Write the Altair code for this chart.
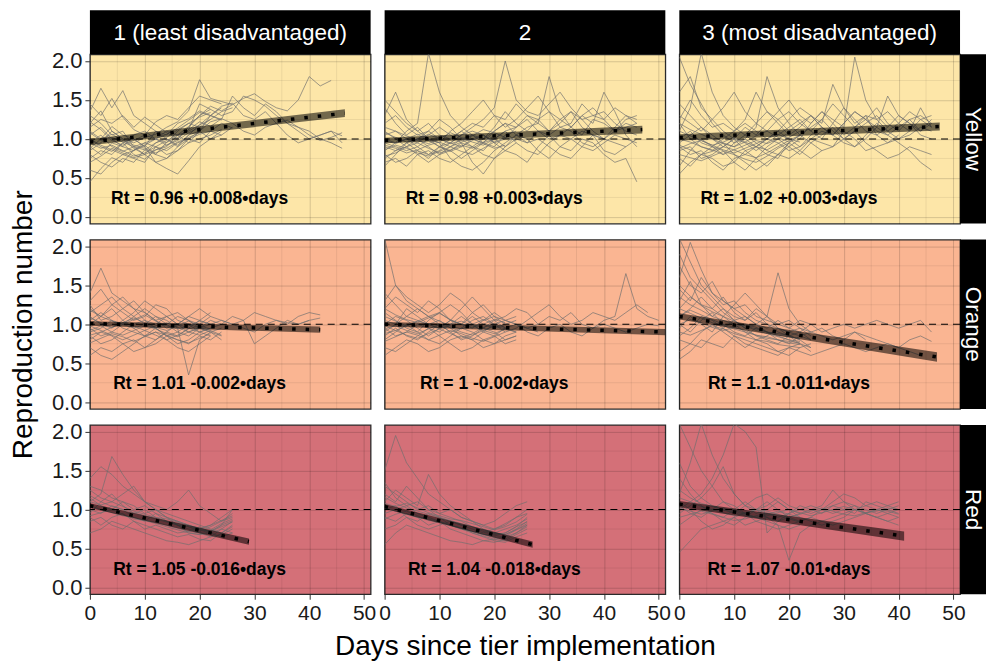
import altair as alt
import pandas as pd

FONT = "Liberation Sans"

tiers = ["Yellow", "Orange", "Red"]
groups = ["1 (least disadvantaged)", "2", "3 (most disadvantaged)"]
tier_fill = ["#FDE6A8", "#FAB592", "#D47078"]
step_days = 2  # readings every 2 days since tier start

# ---- individual county Rt trajectories (every 2 days) ----
yellow_1 = [
    [1.45, 1.30, 1.52, 1.28, 1.12, 1.05, 1.22, 1.30, 1.25, 1.40, 1.55, 1.50, 1.45],
    [0.45, 0.62, 0.76, 0.70, 0.86, 0.92, 0.80, 0.96, 1.02, 1.12, 1.22, 1.16, 1.26],
    [1.00, 0.90, 0.84, 0.95, 0.80, 0.74, 0.86, 0.90, 1.05, 1.16, 1.30, 1.42, 1.36, 1.44],
    [1.20, 1.36, 1.10, 1.00, 0.95, 1.02, 1.06, 1.15, 1.22, 1.36, 1.76, 1.52, 1.48, 1.44, 1.52, 1.58, 1.48, 1.40, 1.36, 1.50, 1.80, 1.68, 1.75],
    [0.80, 0.70, 0.64, 0.75, 0.70, 0.86, 0.80, 0.75, 0.90, 1.00, 1.06, 1.10, 1.20, 1.14],
    [0.95, 1.05, 0.90, 0.84, 0.90, 0.80, 0.95, 1.00, 0.90, 1.05, 1.10, 1.22, 1.26, 1.20, 1.10, 1.05, 1.15, 1.20, 1.24, 1.15, 1.10, 1.00, 0.95, 0.88],
    [1.10, 1.00, 1.16, 1.05, 1.00, 0.90, 1.10, 1.05, 1.20, 1.26, 1.36, 1.30, 1.42, 1.46, 1.30, 1.25, 1.35, 1.20, 1.05, 0.95, 1.00, 1.05, 1.10, 1.04],
    [0.60, 0.55, 0.70, 0.80, 0.75, 0.70, 0.90, 0.85, 0.95, 1.00, 0.95, 1.10, 1.05],
    [1.30, 1.20, 1.05, 1.10, 0.90, 0.95, 1.00, 1.10, 1.05, 0.95, 1.10, 1.30, 1.25, 1.55, 1.40, 1.30, 1.45, 1.35, 1.20, 1.10, 1.00, 1.05, 1.10, 0.95],
    [0.90, 0.80, 0.95, 0.90, 0.85, 0.95, 0.90, 0.80, 0.85, 0.95, 1.00, 1.05, 1.12],
    [1.05, 1.15, 1.00, 0.90, 1.05, 1.10, 1.00, 0.95, 1.10, 1.20, 1.15, 1.25, 1.35, 1.40],
    [0.75, 0.85, 0.80, 0.95, 1.00, 0.90, 0.70, 0.75, 0.85, 1.00, 1.10, 1.00, 1.05, 1.15],
    [1.35, 1.65, 1.40, 1.62, 1.30, 1.20, 1.10, 1.00, 0.92, 1.05, 1.18, 1.30, 1.24],
    [0.85, 0.95, 1.10, 1.00, 0.88, 0.80, 0.70, 0.62, 0.55, 0.72, 0.90, 1.00, 1.10],
    [1.15, 1.25, 1.20, 1.30, 1.15, 1.28, 1.18, 1.08, 1.00, 1.12, 1.45, 1.38, 1.30, 1.35, 1.55, 1.50, 1.42, 1.30, 1.20, 1.15, 1.05, 0.98, 1.02, 1.08],
    [0.95, 0.88, 0.92, 0.85, 0.78, 0.82, 0.90, 0.98, 1.05, 1.10, 1.18, 1.25],
    [1.08, 0.98, 1.02, 0.96, 0.90, 0.86, 0.95, 1.02, 1.12, 1.20, 1.28, 1.34],
    [0.70, 0.78, 0.88, 0.82, 0.76, 0.80, 0.86, 0.92, 0.98, 1.08, 1.15],
    [1.22, 1.12, 0.98, 0.92, 0.98, 1.05, 1.00, 0.92, 1.00, 1.15, 1.30, 1.38],
    [0.88, 1.00, 1.06, 0.98, 0.92, 0.88, 0.82, 0.88, 0.96, 1.02, 1.08],
    [1.00, 0.92, 0.86, 0.80, 0.85, 0.92, 1.00, 1.06, 1.14, 1.24, 1.34, 1.30, 1.40],
]
yellow_2 = [
    [1.00, 0.95, 1.10, 1.20, 2.10, 1.60, 1.30, 1.15, 1.05, 1.00, 1.10, 1.20, 1.15, 1.30, 1.25, 1.10, 1.20, 1.35, 1.15, 1.05, 1.00, 1.10, 1.25, 1.30],
    [0.80, 0.70, 0.75, 0.85, 0.80, 0.90, 0.85, 0.95, 0.70, 0.55, 0.75, 0.90, 1.00, 0.95, 1.10, 1.05, 0.90, 0.85, 1.00, 0.95, 0.80, 0.70, 0.75, 0.45],
    [1.20, 1.30, 1.15, 1.05, 1.10, 1.00, 0.95, 1.05, 1.15, 1.25, 1.40, 2.00, 1.50, 1.35, 1.30, 1.45, 1.60, 1.40, 1.25, 1.30, 1.35, 1.20, 1.10, 1.05],
    [0.90, 0.85, 0.95, 1.00, 0.90, 0.80, 0.85, 0.75, 0.85, 0.95, 1.00, 0.90, 1.05, 1.15, 1.20, 1.80, 1.35, 1.15, 1.05, 1.25, 1.20, 1.10, 1.15, 1.20],
    [1.50, 1.35, 1.20, 1.10, 1.00, 0.90, 0.95, 1.05, 1.10, 1.05, 0.95, 1.00, 1.15, 1.25, 1.10, 1.00, 1.05, 1.15, 1.30, 1.20, 1.60, 1.35, 1.05, 0.90],
    [0.70, 0.75, 0.65, 0.80, 0.85, 0.75, 0.70, 0.80, 0.90, 0.85, 1.00, 1.10, 0.95, 0.85, 0.80, 0.95, 1.05, 1.00, 0.90, 0.85, 0.95, 1.05, 1.00, 0.95],
    [1.05, 1.10, 1.00, 0.95, 1.05, 1.15, 1.05, 0.95, 0.90, 1.00, 1.15, 1.35, 1.20, 1.10, 1.25, 1.35, 1.15, 1.20, 1.45, 1.30, 1.25, 1.40, 1.30, 1.20],
    [0.95, 0.90, 0.85, 0.90, 1.00, 0.95, 0.75, 0.65, 0.60, 0.70, 0.85, 0.95, 1.05, 1.00, 0.85, 0.75, 0.90, 1.00, 1.10, 1.05, 0.85, 0.80, 0.90, 1.00],
    [1.30, 1.60, 1.25, 1.10, 1.20, 1.05, 1.00, 1.10, 1.20, 1.15, 1.30, 1.25, 1.45, 1.30, 1.20, 1.10, 1.25, 1.35, 1.25, 1.10, 1.00, 1.15, 1.30, 1.25],
    [0.85, 0.95, 1.00, 0.90, 0.80, 0.85, 0.95, 0.90, 1.00, 1.05, 0.95, 0.85, 0.80, 0.70, 0.90, 1.05, 1.15, 1.10, 0.95, 0.90, 1.00, 0.95, 0.90],
    [1.10, 1.00, 0.90, 1.00, 1.10, 1.25, 1.15, 1.00, 1.05, 0.95, 0.90, 1.05, 1.10],
    [0.75, 0.85, 0.90, 0.80, 0.70, 0.80, 0.90, 1.00, 0.90, 0.80, 0.75, 0.85, 0.95],
    [1.40, 1.20, 1.05, 1.15, 1.00, 0.95, 1.10, 1.20, 1.35, 1.50, 1.30, 1.15, 1.25, 1.40, 1.55, 1.35, 1.25, 1.15, 1.30, 1.40, 1.25, 1.10, 1.20, 1.15],
    [0.65, 0.80, 0.95, 0.85, 0.75, 0.90, 1.00, 1.10, 1.00, 0.95, 1.10, 1.20, 1.05, 0.95, 1.00, 0.90, 0.80, 0.75, 0.90, 1.05, 1.00],
    [0.92, 0.88, 0.82, 0.86, 0.92, 0.96, 0.90, 0.84, 0.80, 0.88, 0.96, 1.02, 0.98],
    [1.08, 1.02, 0.96, 1.00, 1.06, 1.00, 0.94, 0.98, 1.04, 1.12, 1.08, 1.02],
    [0.78, 0.82, 0.90, 0.95, 0.88, 0.82, 0.86, 0.92, 0.88, 0.96, 1.04],
    [1.15, 1.10, 1.04, 0.98, 0.94, 1.00, 1.08, 1.02, 0.96, 0.92, 1.00, 1.10, 1.15],
    [0.98, 0.94, 1.00, 1.06, 0.98, 0.90, 0.84, 0.90, 0.98, 1.05, 0.96],
    [0.86, 0.92, 0.88, 0.82, 0.78, 0.84, 0.90, 0.96, 1.00, 0.94, 0.88, 0.92],
]
yellow_3 = [
    [1.10, 1.40, 2.10, 1.60, 1.30, 1.15, 1.05, 1.20, 1.35, 1.25, 1.10, 1.20, 1.30, 1.15, 1.05, 1.20, 1.35, 1.25, 1.10, 1.05, 1.15, 1.25, 1.10, 1.20],
    [0.55, 0.70, 0.80, 0.75, 0.65, 0.70, 0.85, 0.90, 0.80, 0.75, 0.95, 1.05, 0.95, 0.85, 0.90, 1.00, 1.10, 0.95, 0.85, 0.75, 0.80, 0.90, 0.85, 0.80],
    [1.60, 1.80, 1.40, 1.25, 1.10, 1.00, 1.15, 1.05, 1.20, 1.35, 1.50, 1.30, 1.20, 1.35, 1.25, 1.15, 2.05, 1.50, 1.25, 1.35, 1.20, 1.10, 1.25, 1.30],
    [0.90, 0.80, 0.85, 0.70, 0.60, 0.75, 0.80, 0.90, 1.00, 0.95, 0.85, 0.90, 1.00, 1.10, 1.05, 0.95, 0.90, 1.00, 1.15, 1.05, 0.95, 0.85, 0.70, 0.60],
    [1.30, 1.20, 1.10, 1.25, 1.40, 1.60, 1.35, 1.20, 1.10, 1.25, 1.35, 1.20, 1.10, 1.25, 1.45, 1.30, 1.15, 1.25, 1.40, 1.20, 1.10, 1.25, 1.30, 1.20],
    [0.75, 0.65, 0.80, 0.90, 0.85, 0.70, 0.60, 0.75, 0.90, 1.00, 0.90, 0.80, 0.95, 1.05, 1.15, 1.00, 0.90, 1.05, 1.20, 1.10, 1.00, 1.05, 1.15, 1.10],
    [1.00, 1.10, 0.95, 0.90, 1.00, 1.10, 1.20, 1.10, 1.00, 1.10, 1.25, 1.40, 1.30, 1.15, 1.05, 1.20, 1.35, 1.25, 1.15, 1.55, 1.30, 1.20, 1.10, 1.25],
    [1.20, 1.00, 0.90, 0.85, 0.95, 0.80, 0.70, 0.60, 0.70, 0.80, 0.90, 1.00, 1.20, 1.35, 1.20, 1.05, 1.15, 1.30, 1.05, 0.95, 1.00, 1.10, 1.40, 1.15],
    [0.65, 0.85, 1.00, 0.90, 0.80, 0.95, 1.05, 0.95, 0.85, 0.80, 0.75, 0.85, 1.00, 0.95, 0.90, 1.10, 1.00, 0.85, 0.90, 0.95, 1.05],
    [1.45, 1.30, 1.15, 1.05, 0.95, 0.90, 1.00, 1.15, 1.80, 1.40, 1.20, 1.05, 1.15, 1.25, 1.10, 1.00, 1.10, 1.20, 1.30, 1.15],
    [0.85, 0.90, 0.75, 0.80, 0.90, 1.00, 0.85, 0.75, 0.65, 0.80, 0.95, 0.85, 0.75, 0.85],
    [2.05, 1.70, 1.45, 1.20, 1.05, 0.95, 1.00, 0.90, 1.00, 1.10, 1.00, 0.90, 1.05, 1.15],
    [0.95, 1.05, 1.15, 1.00, 0.90, 1.00, 0.95, 0.85, 0.95, 1.05, 1.15, 1.25, 1.10, 1.00, 1.20, 1.40, 1.25, 1.10, 1.05, 1.15, 1.30, 1.20, 1.05, 1.00],
    [1.25, 1.50, 1.30, 1.15, 1.20, 1.10, 1.25, 1.60, 1.35, 1.20, 1.05, 1.15, 1.30, 1.20, 1.70, 1.40, 1.20, 1.30, 1.25, 1.10, 1.20, 1.35, 1.25, 1.15],
    [0.92, 0.86, 0.80, 0.84, 0.90, 0.86, 0.80, 0.76, 0.82, 0.90, 0.98, 1.05],
    [1.10, 1.04, 0.98, 0.92, 0.96, 1.02, 0.96, 0.90, 0.86, 0.94, 1.02, 1.10],
    [0.80, 0.76, 0.72, 0.78, 0.84, 0.80, 0.74, 0.70, 0.78, 0.88, 0.95],
    [1.20, 1.12, 1.06, 1.00, 0.94, 0.90, 0.96, 1.04, 1.10, 1.02, 0.96, 1.04],
    [1.00, 0.96, 0.90, 0.86, 0.80, 0.86, 0.92, 0.98, 0.94, 1.00, 1.08],
    [0.88, 0.94, 0.98, 0.92, 0.86, 0.82, 0.88, 0.94, 1.00, 1.06, 1.00, 0.96],
]
orange_1 = [
    [1.40, 1.72, 1.40, 1.30, 1.20, 1.15, 1.05, 1.10, 1.00, 0.95, 1.05, 1.00],
    [0.60, 0.70, 0.65, 0.75, 0.80, 0.70, 0.75, 0.85, 0.80, 0.75, 0.85, 0.80, 0.90],
    [1.00, 1.10, 1.20, 1.05, 0.95, 1.00, 1.10, 1.05, 0.95, 0.35, 0.80, 0.90, 0.95],
    [1.20, 1.10, 1.25, 1.35, 1.20, 1.05, 1.00, 1.10, 1.15, 1.05, 1.00, 1.10, 1.05, 1.00, 1.05, 0.75, 0.85, 0.95, 1.05, 1.00, 1.05, 1.08],
    [0.80, 0.90, 0.85, 0.75, 0.65, 0.70, 0.80, 0.90, 0.85, 0.95, 0.90, 0.85],
    [1.10, 1.00, 0.95, 1.05, 1.15, 1.30, 1.20, 1.10, 1.00, 0.90, 0.95, 1.05, 1.00, 1.10, 1.05, 1.15, 1.10, 1.05, 1.00, 1.10, 1.15, 1.12],
    [0.90, 0.95, 1.05, 0.95, 0.90, 0.85, 0.95, 1.00, 1.10, 1.05, 0.95, 0.90, 0.85],
    [1.30, 1.45, 1.25, 1.15, 1.05, 1.10, 1.25, 1.20, 1.05, 1.00, 0.90, 0.95, 1.00],
    [0.70, 0.60, 0.55, 0.65, 0.75, 0.85, 0.90, 0.80, 0.70, 0.65, 0.75, 0.85],
    [1.05, 1.15, 1.05, 1.00, 1.10, 1.20, 1.10, 1.00, 0.90, 0.85, 0.95, 1.00, 1.05, 1.00, 0.95, 0.90, 1.00, 1.05, 1.02, 1.00, 1.05],
    [0.95, 0.85, 0.90, 1.00, 0.95, 0.85, 0.80, 0.90, 1.00, 1.10, 1.05, 1.15],
    [1.15, 1.25, 1.35, 1.20, 1.10, 1.00, 0.95, 0.85, 0.90, 1.00, 0.95, 0.90, 0.80],
    [0.85, 0.75, 0.80, 0.90, 1.00, 1.05, 0.95, 0.85, 0.75, 0.80, 0.90, 0.95],
    [1.25, 1.05, 1.10, 1.20, 1.30, 1.15, 1.05, 0.95, 1.00, 1.10, 1.20, 1.10],
    [0.92, 0.98, 0.90, 0.86, 0.92, 0.98, 0.94, 0.88, 0.84, 0.90, 0.96, 0.92, 0.86],
    [1.08, 1.02, 0.96, 1.02, 1.08, 1.02, 0.96, 0.92, 0.98, 1.04, 0.98, 0.94],
    [0.76, 0.82, 0.88, 0.84, 0.78, 0.84, 0.90, 0.86, 0.80, 0.76, 0.82, 0.88],
    [1.18, 1.10, 1.04, 1.00, 1.06, 1.12, 1.04, 0.98, 0.94, 0.98, 1.04, 1.00],
    [0.98, 0.92, 0.86, 0.80, 0.86, 0.92, 0.98, 1.02, 0.96, 0.90, 0.86, 0.92],
    [0.86, 0.90, 0.96, 1.02, 0.98, 0.92, 0.86, 0.80, 0.86, 0.94, 0.98],
]
orange_2 = [
    [2.10, 1.50, 1.30, 1.20, 1.10, 1.15, 1.05, 1.00, 1.10, 1.00, 0.95, 1.00, 1.05],
    [0.60, 0.70, 0.80, 0.75, 0.65, 0.70, 0.80, 0.85, 0.80, 0.70, 0.75, 0.85, 0.90],
    [1.20, 1.35, 1.25, 1.15, 1.30, 1.20, 1.05, 1.00, 1.15, 1.25, 1.10, 1.05, 1.00, 0.95, 1.00, 1.10, 1.05, 1.15, 1.00, 0.95, 1.05, 1.10, 1.65, 1.20, 1.10, 1.05],
    [0.95, 0.85, 0.90, 1.00, 0.95, 0.90, 1.00, 1.10, 1.00, 0.90, 0.85, 0.95, 1.00, 0.90, 0.85, 0.95, 1.00, 0.90, 0.85, 0.95, 1.00, 0.95, 0.90, 0.95, 1.00, 0.98],
    [1.40, 1.25, 1.10, 1.05, 1.00, 0.95, 1.05, 1.20, 1.35, 1.20, 1.05, 0.95, 0.90],
    [0.80, 0.90, 1.00, 0.90, 0.80, 0.75, 0.85, 0.95, 0.90, 0.80, 0.75, 0.80, 0.85],
    [1.05, 1.00, 1.10, 1.20, 1.10, 1.00, 0.90, 0.95, 1.05, 1.10, 1.00, 0.90, 0.95, 1.05, 1.15, 1.25, 1.10, 1.00, 1.05, 1.15, 1.10, 1.05, 1.15, 1.25, 1.15],
    [1.30, 1.50, 1.35, 1.25, 1.15, 1.25, 1.40, 1.30, 1.15, 1.05, 1.10, 1.00],
    [0.70, 0.65, 0.75, 0.85, 0.95, 0.85, 0.75, 0.65, 0.70, 0.80, 0.85, 0.75, 0.80],
    [1.00, 1.10, 1.05, 0.95, 0.85, 0.95, 1.05, 1.00, 0.95, 1.05, 1.15, 1.05, 1.00, 0.95, 0.90],
    [0.90, 1.00, 1.20, 1.10, 1.00, 1.05, 0.95, 0.85, 0.80, 0.90, 1.00, 1.05, 1.10],
    [1.15, 1.05, 0.95, 0.90, 1.05, 1.15, 1.25, 1.15, 1.00, 0.95, 1.05, 1.10, 1.20, 1.15, 1.00],
    [0.85, 0.95, 0.85, 0.80, 0.90, 1.00, 0.90, 0.80, 0.85, 0.95, 0.90, 0.80, 0.85],
    [0.94, 0.98, 0.92, 0.88, 0.94, 1.00, 0.96, 0.90, 0.86, 0.92, 0.98, 0.94, 0.90],
    [1.10, 1.04, 0.98, 1.04, 1.10, 1.04, 0.98, 0.94, 1.00, 1.06, 1.00, 0.96],
    [0.78, 0.84, 0.90, 0.86, 0.80, 0.86, 0.92, 0.88, 0.82, 0.78, 0.84, 0.90],
    [1.20, 1.12, 1.06, 1.02, 1.08, 1.14, 1.06, 1.00, 0.96, 1.00, 1.06, 1.02],
    [0.98, 0.92, 0.86, 0.82, 0.88, 0.94, 1.00, 1.04, 0.98, 0.92, 0.88, 0.94],
    [0.88, 0.92, 0.98, 1.04, 1.00, 0.94, 0.88, 0.82, 0.88, 0.96, 1.00],
]
orange_3 = [
    [2.10, 1.80, 1.50, 1.35, 1.20, 1.10, 1.05, 1.15, 1.00, 0.95, 0.90, 0.85, 0.80],
    [1.60, 2.05, 1.70, 1.40, 1.25, 1.30, 1.15, 1.05, 1.00, 0.90, 0.85, 0.90, 0.80],
    [0.55, 0.65, 0.80, 0.75, 0.70, 0.85, 0.80, 0.75, 0.70, 0.65, 0.70, 0.75, 0.65],
    [1.20, 1.35, 1.25, 1.10, 1.20, 1.05, 0.95, 1.00, 1.10, 1.66, 1.20, 1.00, 0.90, 0.95, 0.85, 0.80, 0.90, 0.85, 0.80, 0.75, 0.70, 0.80, 0.85, 0.78],
    [1.00, 0.90, 1.05, 1.15, 1.00, 0.90, 0.85, 0.95, 0.90, 0.80, 0.75, 0.85, 0.90],
    [1.45, 1.30, 1.60, 1.40, 1.30, 1.20, 1.25, 1.10, 1.05, 1.00, 0.95, 1.05, 1.00, 0.90, 0.95, 1.00, 0.95, 1.00, 1.05, 1.00, 0.95, 1.00, 1.05, 0.90],
    [0.80, 0.75, 0.70, 0.85, 0.95, 0.85, 0.75, 0.70, 0.65, 0.60, 0.70, 0.65, 0.60, 0.65, 0.70, 0.75, 0.70, 0.65, 0.70, 0.75, 0.70, 0.65, 0.60],
    [1.30, 1.55, 1.25, 1.20, 1.35, 1.15, 1.05, 1.20, 1.10, 1.00, 1.05, 0.95, 0.85],
    [0.95, 1.10, 1.00, 0.90, 1.10, 1.00, 0.90, 0.80, 0.85, 0.95, 0.85, 0.75, 0.70],
    [1.75, 1.50, 1.40, 1.55, 1.30, 1.20, 1.10, 1.00, 0.95, 1.05, 0.95, 0.90, 1.00],
    [0.65, 0.75, 0.90, 1.00, 0.90, 0.80, 0.70, 0.80, 0.75, 0.65, 0.60, 0.70, 0.75],
    [1.10, 1.20, 1.35, 1.20, 1.10, 1.25, 1.40, 1.25, 1.10, 0.95, 0.90, 0.95, 0.90, 0.85, 0.80, 0.85, 0.90, 0.80],
    [1.90, 1.60, 1.45, 1.30, 1.15, 1.05, 1.10, 1.00, 0.90, 0.85, 0.80, 0.75],
    [0.85, 0.95, 1.10, 1.05, 0.95, 1.05, 0.95, 0.85, 0.80, 0.75, 0.85, 0.80, 0.70],
    [1.20, 1.14, 1.08, 1.02, 0.98, 0.94, 0.90, 0.86, 0.82, 0.80, 0.78, 0.76],
    [1.00, 1.06, 1.02, 0.96, 0.92, 0.96, 0.92, 0.86, 0.84, 0.80, 0.76, 0.74],
    [1.35, 1.25, 1.18, 1.10, 1.05, 1.00, 0.98, 0.94, 0.90, 0.86, 0.84, 0.82],
    [0.90, 0.86, 0.92, 0.98, 0.94, 0.88, 0.84, 0.80, 0.78, 0.74, 0.72, 0.70],
    [1.10, 1.18, 1.12, 1.06, 1.00, 0.96, 1.00, 0.96, 0.90, 0.88, 0.86, 0.80],
    [1.50, 1.36, 1.24, 1.16, 1.10, 1.04, 0.98, 0.92, 0.88, 0.84, 0.80, 0.78],
]
red_1 = [
    [1.40, 1.55, 1.45, 1.30, 1.20, 1.10, 1.00, 0.90, 0.85, 0.80, 0.75, 0.80, 0.90, 1.00],
    [0.70, 0.75, 0.85, 0.80, 0.75, 0.70, 0.65, 0.60, 0.58, 0.55, 0.60, 0.65, 0.75, 0.85],
    [1.10, 1.20, 1.68, 1.45, 1.25, 1.10, 1.00, 0.95, 0.90, 0.85, 0.80, 0.75, 0.70, 0.80],
    [1.00, 0.95, 1.05, 1.00, 0.90, 0.85, 0.95, 0.90, 0.80, 0.75, 0.70, 0.65, 0.68, 0.75],
    [1.25, 1.15, 1.10, 1.20, 1.30, 1.10, 1.05, 1.00, 1.10, 1.25, 1.05, 0.95, 0.85, 0.90],
    [0.85, 0.90, 0.80, 0.75, 0.85, 0.80, 0.75, 0.70, 0.65, 0.68, 0.62, 0.60, 0.70, 0.78],
    [1.15, 1.05, 1.00, 1.10, 1.05, 0.95, 1.00, 0.90, 0.85, 0.80, 0.75, 0.72, 0.80, 1.00],
    [0.95, 1.10, 1.20, 1.05, 0.95, 1.00, 0.90, 0.85, 0.80, 0.70, 0.68, 0.70, 0.75, 0.70],
    [1.30, 1.25, 1.15, 1.10, 1.00, 1.05, 0.95, 0.85, 0.80, 0.78, 0.72, 0.78, 0.85, 0.95],
    [0.90, 0.80, 0.90, 0.95, 0.85, 0.75, 0.80, 0.75, 0.70, 0.72, 0.78, 0.70, 0.65, 0.70],
    [1.05, 1.00, 0.96, 0.92, 0.90, 0.86, 0.84, 0.80, 0.76, 0.72, 0.70, 0.74, 0.82, 0.88],
    [1.18, 1.10, 1.04, 1.00, 0.96, 0.92, 0.88, 0.84, 0.82, 0.78, 0.74, 0.72, 0.78, 0.84],
    [0.92, 0.96, 1.00, 0.94, 0.88, 0.86, 0.82, 0.78, 0.74, 0.70, 0.68, 0.72, 0.80, 0.86],
    [1.10, 1.06, 1.10, 1.04, 0.98, 0.94, 0.90, 0.88, 0.84, 0.80, 0.76, 0.80, 0.86, 0.92],
]
red_2 = [
    [1.50, 1.95, 1.60, 1.40, 1.20, 1.10, 1.00, 0.90, 0.85, 0.80, 0.75, 0.80, 0.90, 0.95],
    [0.55, 0.70, 0.80, 0.75, 0.70, 0.65, 0.60, 0.58, 0.55, 0.60, 0.62, 0.65, 0.70, 0.80],
    [1.10, 1.25, 1.15, 1.05, 1.45, 1.20, 1.05, 0.95, 0.85, 0.75, 0.70, 0.68, 0.75, 0.85],
    [0.90, 0.85, 0.95, 0.90, 0.80, 0.85, 0.75, 0.70, 0.65, 0.60, 0.58, 0.62, 0.70, 0.78],
    [1.30, 1.20, 1.10, 1.00, 1.05, 0.95, 1.00, 0.90, 0.85, 0.80, 0.85, 0.95, 1.05, 1.10],
    [1.00, 1.05, 0.90, 0.80, 0.75, 0.80, 0.85, 0.80, 0.70, 0.65, 0.60, 0.58, 0.65, 0.70],
    [0.75, 0.80, 0.90, 0.85, 0.95, 0.90, 0.80, 0.75, 0.72, 0.68, 0.70, 0.75, 0.80, 0.88],
    [1.20, 1.10, 1.30, 1.15, 1.00, 0.95, 0.90, 0.85, 0.78, 0.72, 0.68, 0.70, 0.78, 0.90],
    [0.95, 1.00, 1.05, 0.95, 0.90, 0.85, 0.80, 0.75, 0.70, 0.66, 0.62, 0.60, 0.68, 0.75],
    [1.35, 1.15, 1.05, 1.10, 1.00, 0.90, 0.85, 0.80, 0.75, 0.70, 0.75, 0.82, 0.90, 1.00],
    [1.02, 0.98, 0.94, 0.90, 0.88, 0.84, 0.80, 0.76, 0.72, 0.68, 0.66, 0.70, 0.78, 0.84],
    [1.16, 1.08, 1.02, 0.98, 0.94, 0.90, 0.86, 0.82, 0.78, 0.74, 0.70, 0.68, 0.74, 0.82],
    [0.88, 0.94, 0.98, 0.92, 0.86, 0.84, 0.80, 0.76, 0.72, 0.68, 0.64, 0.66, 0.74, 0.80],
    [1.08, 1.04, 1.08, 1.02, 0.96, 0.92, 0.88, 0.86, 0.82, 0.78, 0.74, 0.78, 0.84, 0.94],
]
red_3 = [
    [1.20, 1.60, 2.10, 1.70, 1.40, 1.20, 1.05, 1.00, 0.95, 0.90, 0.95, 1.00, 1.05, 1.00, 0.95, 1.00, 1.05, 0.95, 0.90, 0.95, 1.00],
    [0.45, 0.60, 0.75, 0.80, 0.85, 0.90, 0.80, 0.85, 0.90, 0.80, 0.35, 0.70, 0.80, 0.85, 0.90, 0.95, 1.00, 0.95, 0.90, 0.85, 0.90],
    [1.00, 1.10, 1.20, 1.40, 1.70, 2.10, 2.00, 1.80, 0.70, 0.85, 0.95, 1.05, 1.00, 0.95, 1.05, 1.10, 1.05, 1.00, 0.95, 1.00, 1.05],
    [1.40, 1.20, 1.05, 0.95, 0.90, 1.00, 1.10, 1.00, 0.90, 0.85, 0.90, 0.95, 1.00, 1.05, 1.25, 1.10, 1.00, 0.95, 1.00, 0.95, 0.90],
    [0.80, 0.90, 1.00, 0.95, 0.85, 0.80, 0.90, 1.00, 1.10, 1.00, 0.90, 0.85, 0.90, 1.00, 1.05, 1.00, 0.95, 1.10, 1.05, 1.00, 0.95],
    [1.60, 1.30, 1.15, 1.30, 1.55, 1.20, 1.05, 0.95, 1.00, 1.10, 1.00, 0.90, 0.85, 0.80, 0.85, 0.90, 1.00, 1.05, 1.10, 1.05, 1.00],
    [1.05, 0.95, 0.90, 1.00, 1.10, 1.05, 0.95, 0.85, 0.80, 0.75, 0.80, 0.85, 0.90, 0.85, 0.80, 0.85, 0.90, 0.95, 0.90, 0.85, 0.80],
    [0.95, 1.05, 1.15, 1.05, 1.00, 0.95, 1.05, 1.15, 1.20, 1.10, 1.00, 0.95],
    [1.10, 1.00, 0.85, 0.75, 0.80, 0.90, 0.95, 0.90, 0.85, 0.80, 0.75, 0.80],
    [2.10, 1.80, 1.50, 1.30, 1.10, 1.00, 0.95, 1.00, 1.05, 1.15, 1.05, 1.00, 0.95, 1.00, 1.10, 1.20, 1.15, 1.05, 1.00, 1.05, 1.10],
    [1.02, 0.98, 0.94, 0.98, 1.02, 0.98, 0.94, 0.90, 0.92, 0.96, 1.00, 0.96, 0.92, 0.96, 1.00, 1.04, 1.00, 0.96, 0.98, 1.02, 1.00],
    [1.15, 1.10, 1.04, 1.00, 0.96, 0.92, 0.96, 1.00, 0.98, 0.94, 0.90, 0.94, 0.98, 1.02, 0.98, 0.94, 0.92, 0.96, 1.00, 0.98, 0.94],
    [0.90, 0.94, 0.98, 0.94, 0.90, 0.86, 0.88, 0.92, 0.96, 0.92, 0.88, 0.84],
    [1.25, 1.15, 1.08, 1.04, 1.00, 0.96, 0.92, 0.90, 0.94, 0.98, 0.94, 0.90],
]
panel_lines = [
    [yellow_1, yellow_2, yellow_3],
    [orange_1, orange_2, orange_3],
    [red_1, red_2, red_3],
]

# ---- fitted trend (start/end as read) and its confidence band half-widths ----
fit_start = [[0.96, 0.98, 1.02], [1.01, 1.00, 1.10], [1.05, 1.04, 1.07]]
fit_end = [[1.33, 1.12, 1.16], [0.93, 0.90, 0.58], [0.59, 0.55, 0.66]]
fit_end_day = [[46.5, 47.0, 47.5], [42.0, 51.2, 47.0], [29.0, 27.0, 41.0]]
band_start = [[0.04, 0.035, 0.04], [0.03, 0.03, 0.04], [0.03, 0.03, 0.04]]
band_end = [[0.05, 0.05, 0.05], [0.04, 0.04, 0.06], [0.04, 0.04, 0.06]]
fit_labels = [
    ["Rt = 0.96 +0.008\u2022days", "Rt = 0.98 +0.003\u2022days", "Rt = 1.02 +0.003\u2022days"],
    ["Rt = 1.01 -0.002\u2022days", "Rt = 1 -0.002\u2022days", "Rt = 1.1 -0.011\u2022days"],
    ["Rt = 1.05 -0.016\u2022days", "Rt = 1.04 -0.018\u2022days", "Rt = 1.07 -0.01\u2022days"],
]
label_day = [20]
label_rt = [0.23]
ref_level = [1.0]

x_major = [0, 10, 20, 30, 40, 50]
x_minor = [5, 15, 25, 35, 45]
y_major = [0.0, 0.5, 1.0, 1.5, 2.0]
y_minor = [0.25, 0.75, 1.25, 1.75]
x_domain = [0, 51.2]
y_domain = [-0.086, 2.086]

W, H = 281, 169.5
STRIP_H = 44
STRIP_W = 26

xs = alt.Scale(domain=x_domain, nice=False, zero=False)
ys = alt.Scale(domain=y_domain, nice=False, zero=False)


def panel(r, c):
    rows = []
    for li, vals in enumerate(panel_lines[r][c]):
        for k, v in enumerate(vals):
            rows.append({"day": k * step_days, "rt": v, "line": li})
    df = pd.DataFrame(rows)

    bottom = r == 2
    left = c == 0
    xaxis = alt.Axis(
        values=x_major, grid=True, labels=bottom, ticks=bottom, titlePadding=9,
        title="Days since tier implementation" if (bottom and c == 1) else None,
    )
    yaxis = alt.Axis(
        values=y_major, grid=True, labels=left, ticks=left, format=".1f",
        labelFontSize=22, titlePadding=14,
        title="Reproduction number" if (left and r == 1) else None,
    )

    def X(f):
        return alt.X(f, scale=xs, axis=xaxis)

    def Y(f):
        return alt.Y(f, scale=ys, axis=yaxis)

    minor_v = alt.Chart(pd.DataFrame({"v": x_minor})).mark_rule(
        color="black", opacity=0.1, strokeWidth=0.7
    ).encode(x=X("v:Q"))
    minor_h = alt.Chart(pd.DataFrame({"v": y_minor})).mark_rule(
        color="black", opacity=0.1, strokeWidth=0.7
    ).encode(y=Y("v:Q"))

    lines = alt.Chart(df).mark_line(
        color="#6f6f6f", strokeWidth=0.75, opacity=0.9, clip=True
    ).encode(x=X("day:Q"), y=Y("rt:Q"), detail="line:N")

    ref = alt.Chart(pd.DataFrame({"v": ref_level})).mark_rule(
        color="black", strokeDash=[7, 5], strokeWidth=1.1
    ).encode(y=Y("v:Q"))

    fit = pd.DataFrame({
        "day": [0, fit_end_day[r][c]],
        "mid": [fit_start[r][c], fit_end[r][c]],
        "lo": [fit_start[r][c] - band_start[r][c], fit_end[r][c] - band_end[r][c]],
        "hi": [fit_start[r][c] + band_start[r][c], fit_end[r][c] + band_end[r][c]],
    })
    ribbon = alt.Chart(fit).mark_area(color="black", opacity=0.55, clip=True).encode(
        x=X("day:Q"), y=Y("lo:Q"), y2="hi:Q"
    )
    dotted = alt.Chart(fit).mark_line(
        color="black", strokeWidth=3.5, strokeDash=[3.5, 10], clip=True
    ).encode(x=X("day:Q"), y=Y("mid:Q"))

    lab = pd.DataFrame({"day": label_day, "rt": label_rt, "text": [fit_labels[r][c]]})
    label = alt.Chart(lab).mark_text(
        font=FONT, fontSize=17.5, fontWeight="bold", color="black",
        align="center", baseline="middle"
    ).encode(x=X("day:Q"), y=Y("rt:Q"), text="text:N")

    layers = [minor_v, minor_h, lines, ref, ribbon, dotted, label]

    if r == 0:
        sd = pd.DataFrame({"label": [groups[c]]})
        layers.append(alt.Chart(sd).mark_rect(color="black").encode(
            x=alt.value(0), x2=alt.value(W), y=alt.value(-STRIP_H), y2=alt.value(0)))
        layers.append(alt.Chart(sd).mark_text(
            font=FONT, fontSize=22.5, color="white", align="center", baseline="middle"
        ).encode(x=alt.value(W / 2), y=alt.value(-STRIP_H / 2 + 1), text="label:N"))
    if c == 2:
        td = pd.DataFrame({"label": [tiers[r]]})
        layers.append(alt.Chart(td).mark_rect(color="black").encode(
            x=alt.value(W), x2=alt.value(W + STRIP_W), y=alt.value(0), y2=alt.value(H)))
        layers.append(alt.Chart(td).mark_text(
            font=FONT, fontSize=22.5, color="white", align="center", baseline="middle", angle=90
        ).encode(x=alt.value(W + STRIP_W / 2), y=alt.value(H / 2), text="label:N"))

    return alt.layer(*layers).properties(
        width=W, height=H,
        view=alt.ViewBackground(fill=tier_fill[r], stroke="#2b2b2b", strokeWidth=1.3),
    )


panels = [panel(r, c) for r in range(3) for c in range(3)]

chart = alt.concat(
    *panels, columns=3, spacing={"row": 15.5, "column": 14}, bounds="flush"
).properties(
    padding={"left": 0, "top": 1, "right": 0, "bottom": 0},
    background="white",
).configure_axis(
    labelFont=FONT, labelFontSize=21, labelColor="#1a1a1a", labelPadding=3,
    labelFlush=False, labelOverlap=False,
    tickColor="#333333", tickSize=5, tickWidth=1,
    titleFont=FONT, titleFontSize=28, titleFontWeight="normal", titleColor="black",
    domain=False,
    gridColor="black", gridOpacity=0.2, gridWidth=0.8,
).configure_view(strokeWidth=0)

chart.save("out.html", embed_options={"renderer": "svg", "actions": False})
